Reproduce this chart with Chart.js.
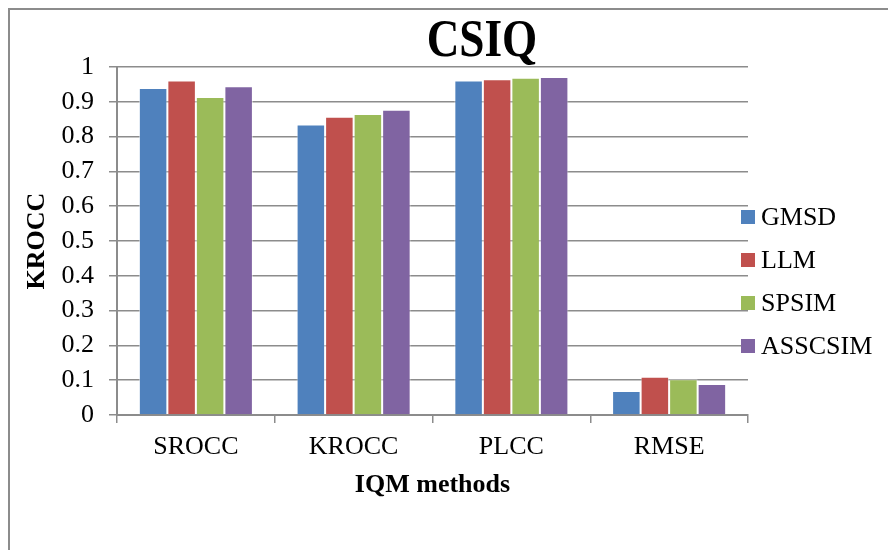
<!DOCTYPE html>
<html lang="en">

<head>
    <meta charset="UTF-8">
    <title>CSIQ</title>
    <style>
        html, body {
            margin: 0;
            padding: 0;
            overflow: hidden;
            background-color: #ffffff;
        }

        #frame {
            position: absolute;
            left: 8px;
            top: 8px;
            width: 960px;
            height: 600px;
            border: 2px solid #8c8c8c;
        }

        #wrap {
            position: absolute;
            left: 0;
            top: 0;
            width: 888px;
            height: 550px;
        }
    </style>
</head>

<body>
    <div id="frame"></div>
    <div id="wrap">
        <canvas id="barChart" width="888" height="550"></canvas>
    </div>

    <script src="https://cdn.jsdelivr.net/npm/chart.js"></script>

    <script>
        const categories = ['SROCC', 'KROCC', 'PLCC', 'RMSE'];
        const gmsd = [0.940, 0.835, 0.961, 0.069];
        const llm = [0.961, 0.857, 0.965, 0.110];
        const spsim = [0.914, 0.865, 0.969, 0.103];
        const asscsim = [0.945, 0.877, 0.971, 0.089];
        const yTicks = [0, 0.1, 0.2, 0.3, 0.4, 0.5, 0.6, 0.7, 0.8, 0.9, 1];
        const chartTitle = 'CSIQ';

        const FONT = "'Liberation Serif', 'Times New Roman', serif";
        const GRID = '#8c8c8c';

        // title and legend drawn by hand: the original frame is wider than the
        // window, so the title is off-centre and the legend overlaps the grid
        const decorations = {
            id: 'decorations',
            afterDraw(chart) {
                const ctx = chart.ctx;
                ctx.save();
                ctx.fillStyle = '#000000';
                ctx.textAlign = 'center';
                ctx.textBaseline = 'middle';
                ctx.translate(482, 43);
                ctx.scale(0.87, 1);
                ctx.font = 'bold 52px ' + FONT;
                ctx.fillText(chartTitle, 0, 0);
                ctx.restore();

                ctx.save();
                ctx.font = '26px ' + FONT;
                ctx.textBaseline = 'middle';
                ctx.textAlign = 'left';
                chart.data.datasets.forEach(function (ds, i) {
                    const y = 217 + i * 43;
                    ctx.fillStyle = ds.backgroundColor;
                    ctx.fillRect(741, y - 7, 14, 14);
                    ctx.fillStyle = '#000000';
                    ctx.fillText(ds.label, 761, y + 1);
                });
                ctx.restore();
            }
        };

        const ctx = document.getElementById('barChart').getContext('2d');

        const barChart = new Chart(ctx, {
            type: 'bar',
            data: {
                labels: categories,
                datasets: [
                    { label: 'GMSD', data: gmsd, backgroundColor: '#4F81BD' },
                    { label: 'LLM', data: llm, backgroundColor: '#C0504D' },
                    { label: 'SPSIM', data: spsim, backgroundColor: '#9BBB59' },
                    { label: 'ASSCSIM', data: asscsim, backgroundColor: '#8064A2' }
                ]
            },
            options: {
                responsive: false,
                animation: false,
                layout: {
                    padding: { left: 10, right: 140, top: 67, bottom: 49.4 }
                },
                datasets: {
                    bar: {
                        categoryPercentage: 0.723,
                        barPercentage: 1,
                        borderWidth: 1,
                        borderColor: 'rgba(255,255,255,0.55)'
                    }
                },
                scales: {
                    x: {
                        afterFit(scale) { scale.height = 85.6; },
                        grid: {
                            display: true,
                            drawOnChartArea: false,
                            drawTicks: true,
                            tickLength: 8,
                            color: GRID,
                            lineWidth: 1.5
                        },
                        border: { color: GRID, width: 2 },
                        ticks: {
                            color: '#000000',
                            padding: 9,
                            font: { family: FONT, size: 26 }
                        },
                        title: {
                            display: true,
                            text: 'IQM methods',
                            color: '#000000',
                            padding: { top: 0, bottom: 0 },
                            font: { family: FONT, size: 26, weight: 'bold' }
                        }
                    },
                    y: {
                        min: 0,
                        max: 1,
                        afterFit(scale) { scale.width = 107; },
                        afterBuildTicks(scale) {
                            scale.ticks = yTicks.map(v => ({ value: v }));
                        },
                        grid: {
                            color: GRID,
                            lineWidth: 1.5,
                            tickLength: 8
                        },
                        border: { color: GRID, width: 2 },
                        ticks: {
                            color: '#000000',
                            padding: 15,
                            font: { family: FONT, size: 26 },
                            callback: v => String(+v.toFixed(1))
                        },
                        title: {
                            display: true,
                            text: 'KROCC',
                            color: '#000000',
                            padding: { top: 12, bottom: 0 },
                            font: { family: FONT, size: 26, weight: 'bold' }
                        }
                    }
                },
                plugins: {
                    legend: { display: false },
                    tooltip: { enabled: false },
                    title: { display: false }
                }
            },
            plugins: [decorations]
        });
    </script>
</body>

</html>
